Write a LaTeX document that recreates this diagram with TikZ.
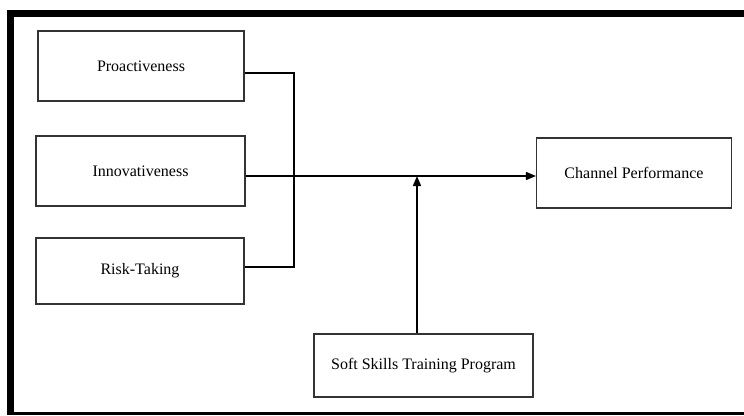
\documentclass[tikz,border=0pt]{standalone}
\usepackage{fontspec}
\setmainfont{Liberation Serif}
\usetikzlibrary{arrows.meta}
\begin{document}
\begin{tikzpicture}[x=1pt,y=-1pt,
  box/.style={draw=black!80,line width=1.1pt,rectangle,inner sep=0pt,font=\fontsize{16}{19}\selectfont},
  conn/.style={draw=black,line width=1.5pt},
  arr/.style={conn,-{Triangle[length=10pt,width=8pt]}}]
\useasboundingbox (0,0) rectangle (744,415);
\fill[white] (0,0) rectangle (744,415);
% frame
\fill[black] (7,10) rectangle (744,17);
\fill[black] (7,10) rectangle (14,415);
\fill[black] (7,412) rectangle (744,415);
% boxes
\node[box,minimum width=206pt,minimum height=70pt] (pro) at (141,66) {Proactiveness};
\node[box,minimum width=209pt,minimum height=70pt] (inn) at (140.5,171) {Innovativeness};
\node[box,minimum width=208pt,minimum height=66pt] (risk) at (140,271) {Risk-Taking};
\node[box,minimum width=195pt,minimum height=70pt] (chan) at (634,173) {Channel Performance};
\node[box,minimum width=219pt,minimum height=63pt] (soft) at (423.5,365.5) {Soft Skills Training Program};
% junction coordinates
\coordinate (jt) at (294,73);
\coordinate (jb) at (294,267);
\coordinate (mod) at (417,176);
% connectors
\draw[conn] (pro.east |- jt) -- (jt) -- (jb) -- (risk.east |- jb);
\draw[arr] (inn.east |- mod) -- (chan.west |- mod);
\draw[arr] (soft.north -| mod) -- (mod);
\end{tikzpicture}
\end{document}
